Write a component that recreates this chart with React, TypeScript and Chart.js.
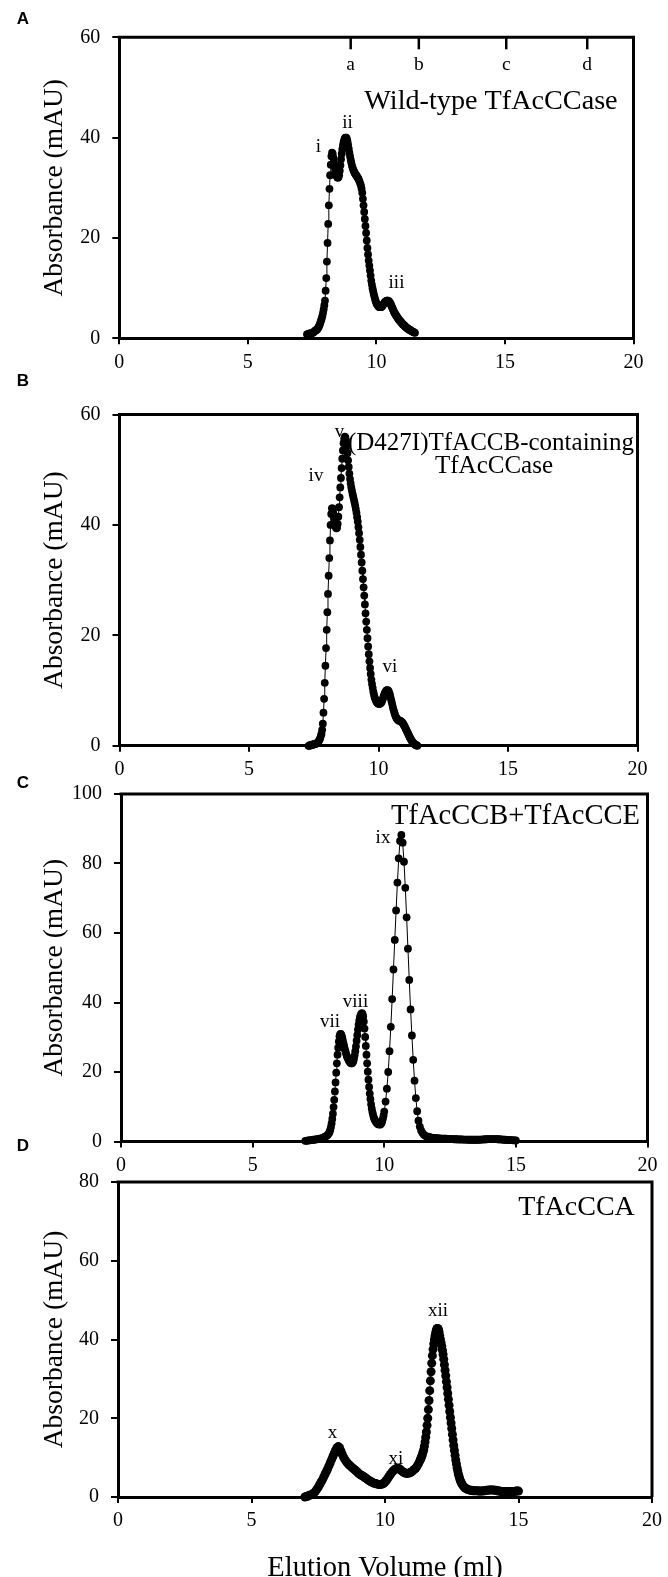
import React, { useEffect, useRef } from 'react';
import { Chart, registerables } from 'chart.js';

Chart.register(...registerables);

// ---------- data ----------
// elution volumes (ml) for panels A and B
const volumesAB = [
  7.300, 7.325, 7.350, 7.375, 7.400, 7.425, 7.450, 7.475, 7.500, 7.525, 7.550, 7.575, 7.600, 7.625, 7.650, 7.675, 7.700, 7.725, 7.750, 7.775,
  7.800, 7.825, 7.850, 7.875, 7.900, 7.925, 7.950, 7.975, 8.000, 8.025, 8.050, 8.075, 8.100, 8.125, 8.150, 8.175, 8.200, 8.225, 8.250, 8.275,
  8.300, 8.325, 8.350, 8.375, 8.400, 8.425, 8.450, 8.475, 8.500, 8.525, 8.550, 8.575, 8.600, 8.625, 8.650, 8.675, 8.700, 8.725, 8.750, 8.775,
  8.800, 8.825, 8.850, 8.875, 8.900, 8.925, 8.950, 8.975, 9.000, 9.025, 9.050, 9.075, 9.100, 9.125, 9.150, 9.175, 9.200, 9.225, 9.250, 9.275,
  9.300, 9.325, 9.350, 9.375, 9.400, 9.425, 9.450, 9.475, 9.500, 9.525, 9.550, 9.575, 9.600, 9.625, 9.650, 9.675, 9.700, 9.725, 9.750, 9.775,
  9.800, 9.825, 9.850, 9.875, 9.900, 9.925, 9.950, 9.975, 10.000, 10.025, 10.050, 10.075, 10.100, 10.125, 10.150, 10.175, 10.200, 10.225, 10.250, 10.275,
  10.300, 10.325, 10.350, 10.375, 10.400, 10.425, 10.450, 10.475, 10.500, 10.525, 10.550, 10.575, 10.600, 10.625, 10.650, 10.675, 10.700, 10.725, 10.750, 10.775,
  10.800, 10.825, 10.850, 10.875, 10.900, 10.925, 10.950, 10.975, 11.000, 11.025, 11.050, 11.075, 11.100, 11.125, 11.150, 11.175, 11.200, 11.225, 11.250, 11.275,
  11.300, 11.325, 11.350, 11.375, 11.400, 11.425, 11.450, 11.475, 11.500,
];

// A: wild-type TfAcCCase (mAU)
const absorbanceA = [
  0.8, 0.8, 0.9, 0.9, 1.0, 1.0, 1.0, 1.0, 1.1, 1.1, 1.2, 1.3, 1.5, 1.5, 1.6, 1.7, 1.8, 2.0, 2.2, 2.5,
  2.8, 3.2, 3.6, 4.0, 4.5, 5.1, 5.8, 6.6, 7.5, 9.5, 12.0, 15.3, 19.0, 22.8, 26.5, 29.8, 32.5, 34.6, 36.3, 37.0,
  36.8, 36.0, 35.0, 34.2, 33.5, 32.9, 32.4, 32.1, 32.0, 32.1, 32.5, 33.4, 34.5, 35.7, 36.8, 37.7, 38.5, 39.1, 39.6, 39.9,
  40.0, 40.0, 39.8, 39.3, 38.6, 37.8, 37.0, 36.3, 35.6, 35.0, 34.4, 34.0, 33.6, 33.3, 33.0, 32.8, 32.6, 32.4, 32.2, 32.0,
  31.8, 31.5, 31.2, 30.8, 30.4, 29.8, 29.0, 27.8, 26.5, 25.2, 23.8, 22.4, 21.0, 19.5, 18.0, 16.7, 15.5, 14.5, 13.5, 12.5,
  11.5, 10.7, 10.0, 9.4, 8.8, 8.3, 7.8, 7.4, 7.0, 6.8, 6.6, 6.4, 6.3, 6.2, 6.2, 6.2, 6.3, 6.4, 6.6, 6.8,
  7.0, 7.2, 7.3, 7.4, 7.5, 7.5, 7.5, 7.4, 7.3, 7.1, 6.9, 6.6, 6.3, 6.0, 5.7, 5.4, 5.1, 4.9, 4.7, 4.5,
  4.3, 4.1, 3.9, 3.7, 3.6, 3.4, 3.3, 3.1, 3.0, 2.8, 2.7, 2.6, 2.5, 2.3, 2.2, 2.1, 2.0, 1.9, 1.8, 1.7,
  1.7, 1.6, 1.5, 1.4, 1.4, 1.3, 1.2, 1.2, 1.1,
];

// B: (D427I)TfACCB-containing TfAcCCase (mAU)
const absorbanceB = [
  0.0, 0.0, 0.1, 0.1, 0.1, 0.2, 0.2, 0.2, 0.3, 0.3, 0.3, 0.4, 0.4, 0.5, 0.6, 0.7, 0.9, 1.1, 1.4, 1.8,
  2.2, 2.9, 4.0, 6.0, 8.5, 11.4, 14.5, 17.7, 21.0, 24.2, 27.5, 30.8, 34.0, 37.2, 40.0, 42.0, 43.0, 43.0, 42.3, 41.4,
  40.6, 40.0, 39.6, 39.4, 39.5, 40.2, 41.5, 43.2, 45.0, 46.8, 48.5, 50.3, 52.0, 53.5, 54.8, 55.6, 56.0, 55.8, 55.2, 54.2,
  53.0, 51.7, 50.5, 49.3, 48.3, 47.5, 46.8, 46.2, 45.6, 45.1, 44.6, 44.1, 43.5, 42.9, 42.2, 41.4, 40.6, 39.6, 38.5, 37.3,
  36.0, 34.6, 33.2, 31.7, 30.2, 28.7, 27.2, 25.6, 24.0, 22.5, 21.0, 19.5, 18.0, 16.6, 15.3, 14.1, 13.0, 12.0, 11.2, 10.5,
  9.8, 9.3, 8.8, 8.5, 8.2, 8.0, 7.8, 7.7, 7.6, 7.6, 7.6, 7.7, 7.8, 8.0, 8.3, 8.6, 9.0, 9.3, 9.6, 9.8,
  10.0, 10.1, 10.1, 10.0, 9.8, 9.5, 9.1, 8.6, 8.1, 7.6, 7.1, 6.6, 6.2, 5.8, 5.5, 5.2, 5.0, 4.8, 4.7, 4.6,
  4.6, 4.5, 4.5, 4.4, 4.3, 4.2, 4.0, 3.8, 3.6, 3.4, 3.1, 2.9, 2.6, 2.4, 2.1, 1.9, 1.6, 1.4, 1.2, 1.0,
  0.8, 0.6, 0.5, 0.4, 0.3, 0.2, 0.1, 0.1, 0.0,
];

// C: TfAcCCB+TfAcCCE
const volumesC = [
  7.00, 7.05, 7.10, 7.15, 7.20, 7.25, 7.30, 7.35, 7.40, 7.45, 7.50, 7.55, 7.60, 7.65, 7.70, 7.75, 7.80, 7.85, 7.90,
  7.925, 7.950, 7.975, 8.000, 8.025, 8.050, 8.075, 8.100, 8.125, 8.150, 8.175, 8.200, 8.225, 8.250, 8.275, 8.300, 8.325, 8.350, 8.375, 8.400,
  8.425, 8.450, 8.475, 8.500, 8.525, 8.550, 8.575, 8.600, 8.625, 8.650, 8.675, 8.700, 8.725, 8.750, 8.775, 8.800, 8.825, 8.850, 8.875, 8.900,
  8.925, 8.950, 8.975, 9.000, 9.025, 9.050, 9.075, 9.100, 9.125, 9.150, 9.175, 9.200, 9.225, 9.250, 9.275, 9.300, 9.325, 9.350, 9.375, 9.400,
  9.425, 9.450, 9.475, 9.500, 9.525, 9.550, 9.575, 9.600, 9.625, 9.650, 9.675, 9.700, 9.725, 9.750, 9.775, 9.800, 9.825, 9.850, 9.875, 9.900,
  9.925, 9.950, 9.975,
  10.00, 10.05, 10.10, 10.15, 10.20, 10.25, 10.30, 10.35, 10.40, 10.45,
  10.50, 10.55, 10.60, 10.65, 10.70, 10.75, 10.80, 10.85, 10.90, 10.95,
  11.00, 11.05, 11.10, 11.15, 11.20, 11.25, 11.30, 11.35, 11.40, 11.45,
  11.50, 11.55, 11.60, 11.65, 11.70, 11.75, 11.80, 11.85, 11.90, 11.95,
  12.00, 12.05, 12.10, 12.15, 12.20, 12.25, 12.30, 12.35, 12.40, 12.45,
  12.50, 12.55, 12.60, 12.65, 12.70, 12.75, 12.80, 12.85, 12.90, 12.95,
  13.00, 13.05, 13.10, 13.15, 13.20, 13.25, 13.30, 13.35, 13.40, 13.45,
  13.50, 13.55, 13.60, 13.65, 13.70, 13.75, 13.80, 13.85, 13.90, 13.95,
  14.00, 14.05, 14.10, 14.15, 14.20, 14.25, 14.30, 14.35, 14.40, 14.45,
  14.50, 14.55, 14.60, 14.65, 14.70, 14.75, 14.80, 14.85, 14.90, 14.95,
  15.00,
];

const absorbanceC = [
  0.2, 0.2, 0.3, 0.3, 0.4, 0.4, 0.5, 0.5, 0.6, 0.7, 0.7, 0.8, 0.9, 1.0, 1.2, 1.4, 1.6, 1.9, 2.4,
  2.8, 3.4, 4.2, 5.2, 6.5, 8.0, 9.9, 12.0, 14.4, 17.0, 19.8, 22.5, 25.0, 27.0, 28.8, 30.3, 30.9, 31.0, 30.6, 30.0,
  29.2, 28.3, 27.5, 26.7, 26.0, 25.3, 24.7, 24.2, 23.8, 23.4, 23.1, 22.8, 22.6, 22.5, 22.5, 22.7, 23.1, 23.8, 24.8, 26.0,
  27.4, 29.0, 30.6, 32.2, 33.6, 34.8, 35.7, 36.3, 36.7, 36.9, 36.7, 36.0, 34.5, 32.5, 30.1, 27.5, 25.0, 22.5, 20.1, 17.8,
  15.7, 13.8, 12.2, 10.7, 9.5, 8.5, 7.7, 7.0, 6.5, 6.1, 5.8, 5.5, 5.3, 5.1, 5.0, 4.9, 4.9, 4.9, 5.1, 5.4,
  5.9, 6.6, 7.5,
  8.6, 11.5, 15.2, 20.0, 26.0, 33.0, 41.0, 49.5, 58.0, 66.5,
  74.5, 81.5, 86.5, 88.2, 86.0, 80.5, 73.0, 64.5, 55.5, 46.5,
  38.0, 30.5, 23.5, 17.5, 12.5, 8.7, 6.0, 4.3, 3.2, 2.5,
  2.0, 1.7, 1.5, 1.4, 1.3, 1.2, 1.1, 1.05, 1.0, 1.0,
  0.95, 0.9, 0.9, 0.85, 0.85, 0.8, 0.8, 0.8, 0.75, 0.75,
  0.7, 0.7, 0.7, 0.65, 0.65, 0.65, 0.6, 0.6, 0.6, 0.6,
  0.55, 0.55, 0.55, 0.55, 0.5, 0.5, 0.5, 0.5, 0.5, 0.5,
  0.5, 0.5, 0.5, 0.55, 0.55, 0.6, 0.6, 0.65, 0.65, 0.7,
  0.7, 0.7, 0.7, 0.7, 0.7, 0.7, 0.65, 0.65, 0.6, 0.6,
  0.55, 0.5, 0.5, 0.45, 0.45, 0.4, 0.4, 0.4, 0.35, 0.35,
  0.3,
];

// D: TfAcCCA
const volumesD = [
  7.00, 7.05, 7.10, 7.15, 7.20, 7.25, 7.30, 7.35, 7.40, 7.45,
  7.50, 7.55, 7.60, 7.65, 7.70, 7.75, 7.80, 7.85, 7.90, 7.95,
  8.00, 8.05, 8.10, 8.15, 8.20, 8.25, 8.30, 8.35, 8.40, 8.45,
  8.50, 8.55, 8.60, 8.65, 8.70, 8.75, 8.80, 8.85, 8.90, 8.95,
  9.00, 9.05, 9.10, 9.15, 9.20, 9.25, 9.30, 9.35, 9.40, 9.45,
  9.50, 9.55, 9.60, 9.65, 9.70, 9.75, 9.80, 9.85, 9.90, 9.95,
  10.00, 10.05, 10.10, 10.15, 10.20, 10.25, 10.30, 10.35, 10.40, 10.45,
  10.50, 10.55, 10.60, 10.65, 10.70, 10.75, 10.80, 10.85, 10.90, 10.95,
  11.00, 11.05, 11.10, 11.15, 11.20, 11.25, 11.30,
  11.325, 11.350, 11.375, 11.400, 11.425, 11.450, 11.475, 11.500, 11.525, 11.550,
  11.575, 11.600, 11.625, 11.650, 11.675, 11.700, 11.725, 11.750, 11.775, 11.800,
  11.825, 11.850, 11.875, 11.900, 11.925, 11.950, 11.975, 12.000, 12.025, 12.050,
  12.075, 12.100, 12.125, 12.150, 12.175, 12.200, 12.225, 12.250, 12.275, 12.300,
  12.325, 12.350, 12.375, 12.400, 12.425, 12.450, 12.475, 12.500, 12.525, 12.550,
  12.575, 12.600, 12.625, 12.650, 12.675, 12.700, 12.725, 12.750, 12.775, 12.800,
  12.825, 12.850, 12.875,
  12.90, 12.95,
  13.00, 13.05, 13.10, 13.15, 13.20, 13.25, 13.30, 13.35, 13.40, 13.45,
  13.50, 13.55, 13.60, 13.65, 13.70, 13.75, 13.80, 13.85, 13.90, 13.95,
  14.00, 14.05, 14.10, 14.15, 14.20, 14.25, 14.30, 14.35, 14.40, 14.45,
  14.50, 14.55, 14.60, 14.65, 14.70, 14.75, 14.80, 14.85, 14.90, 14.95,
  15.00,
];

const absorbanceD = [
  0.0, 0.1, 0.2, 0.4, 0.5, 0.6, 0.8, 1.1, 1.5, 2.0,
  2.5, 3.1, 3.7, 4.3, 5.0, 5.7, 6.4, 7.1, 7.9, 8.7,
  9.5, 10.3, 11.1, 11.9, 12.5, 12.8, 12.5, 11.7, 10.8, 10.1,
  9.5, 9.0, 8.6, 8.2, 7.9, 7.6, 7.3, 7.0, 6.7, 6.4,
  6.1, 5.8, 5.6, 5.4, 5.2, 4.9, 4.7, 4.4, 4.2, 4.0,
  3.8, 3.6, 3.5, 3.4, 3.3, 3.2, 3.2, 3.2, 3.3, 3.5,
  3.8, 4.2, 4.7, 5.2, 5.7, 6.2, 6.6, 6.9, 7.1, 7.3,
  7.3, 7.1, 6.8, 6.5, 6.3, 6.1, 6.0, 6.0, 6.1, 6.2,
  6.4, 6.7, 7.0, 7.3, 7.8, 8.4, 9.1,
  9.5, 9.9, 10.3, 10.8, 11.4, 12.0, 12.9, 14.0, 15.2, 16.5,
  18.2, 20.0, 22.2, 24.5, 27.0, 29.5, 31.8, 34.0, 35.9, 37.5,
  38.9, 40.0, 41.0, 41.8, 42.4, 42.8, 42.8, 42.6, 41.9, 41.0,
  40.1, 39.2, 38.3, 37.3, 36.2, 35.0, 33.6, 32.2, 30.8, 29.3,
  27.8, 26.3, 24.8, 23.3, 21.7, 20.2, 18.8, 17.4, 15.9, 14.5,
  13.1, 11.8, 10.6, 9.4, 8.4, 7.4, 6.6, 5.8, 5.2, 4.6,
  4.1, 3.7, 3.4,
  3.1, 2.6,
  2.3, 2.1, 1.9, 1.8, 1.7, 1.7, 1.6, 1.6, 1.6, 1.6,
  1.5, 1.5, 1.5, 1.5, 1.6, 1.6, 1.7, 1.7, 1.8, 1.8,
  1.8, 1.8, 1.7, 1.7, 1.6, 1.5, 1.5, 1.4, 1.4, 1.4,
  1.4, 1.4, 1.4, 1.4, 1.4, 1.4, 1.4, 1.4, 1.5, 1.5,
  1.5,
];

const xTickValues = [0, 5, 10, 15, 20];
const yTicksAB = [0, 20, 40, 60];
const yTicksC = [0, 20, 40, 60, 80, 100];
const yTicksD = [0, 20, 40, 60, 80];

// calibration standards on top axis of panel A
const markerVolumes = [9.0, 11.65, 15.05, 18.2];
const markerLabels = ['a', 'b', 'c', 'd'];

// ---------- layout / style ----------
const SERIF = '"Liberation Serif", "Times New Roman", serif';
const SANS = '"Liberation Sans", Arial, sans-serif';
const PAGE_W = 668;

type TextItem = { text: string; x: number; y: number; size: number };

type Panel = {
  letter: string;
  letterX: number;
  letterY: number;
  canvasTop: number;
  canvasHeight: number;
  left: number;
  right: number;
  top: number;
  bottom: number;
  yTicks: number[];
  volumes: number[];
  values: number[];
  radius: number;
  texts: TextItem[];
  markers: boolean;
  xTitle: boolean;
};

const panels: Panel[] = [
  {
    letter: 'A', letterX: 23, letterY: 24,
    canvasTop: 0, canvasHeight: 385,
    left: 119.3, right: 633.5, top: 37.3, bottom: 338.3,
    yTicks: yTicksAB, volumes: volumesAB, values: absorbanceA, radius: 3.9,
    texts: [
      { text: 'Wild-type TfAcCCase', x: 491, y: 109, size: 28.2 },
      { text: 'i', x: 318.5, y: 151.7, size: 19 },
      { text: 'ii', x: 347.5, y: 127.7, size: 19 },
      { text: 'iii', x: 396.5, y: 288, size: 19 },
    ],
    markers: true, xTitle: false,
  },
  {
    letter: 'B', letterX: 23, letterY: 386,
    canvasTop: 372, canvasHeight: 410,
    left: 119.5, right: 637.5, top: 414.5, bottom: 745.8,
    yTicks: yTicksAB, volumes: volumesAB, values: absorbanceB, radius: 3.9,
    texts: [
      { text: '(D427I)TfACCB-containing', x: 491, y: 450, size: 25 },
      { text: 'TfAcCCase', x: 494, y: 473, size: 25 },
      { text: 'iv', x: 316, y: 481, size: 19 },
      { text: 'v', x: 339.5, y: 437, size: 19 },
      { text: 'vi', x: 390, y: 671.7, size: 19 },
    ],
    markers: false, xTitle: false,
  },
  {
    letter: 'C', letterX: 23, letterY: 788.3,
    canvasTop: 770, canvasHeight: 412,
    left: 121, right: 647.5, top: 790, bottom: 1141.5,
    yTicks: yTicksC, volumes: volumesC, values: absorbanceC, radius: 3.9,
    texts: [
      { text: 'TfAcCCB+TfAcCCE', x: 515.5, y: 824, size: 28.5 },
      { text: 'vii', x: 330, y: 1027, size: 19 },
      { text: 'viii', x: 355.5, y: 1007, size: 19 },
      { text: 'ix', x: 383, y: 843, size: 19 },
    ],
    markers: false, xTitle: false,
  },
  {
    letter: 'D', letterX: 23, letterY: 1151,
    canvasTop: 1125, canvasHeight: 452,
    left: 118, right: 654, top: 1182, bottom: 1497,
    yTicks: yTicksD, volumes: volumesD, values: absorbanceD, radius: 4.5,
    texts: [
      { text: 'TfAcCCA', x: 576.5, y: 1215, size: 28 },
      { text: 'x', x: 332.5, y: 1438, size: 19 },
      { text: 'xi', x: 396, y: 1464, size: 19 },
      { text: 'xii', x: 438, y: 1316, size: 19 },
    ],
    markers: false, xTitle: true,
  },
];

function PanelChart({ p }: { p: Panel }) {
  const ref = useRef<HTMLCanvasElement | null>(null);

  useEffect(() => {
    const canvas = ref.current;
    if (!canvas) return;
    const T = p.canvasTop;

    const overlay = {
      id: 'overlay' + p.letter,
      afterDraw(chart: any) {
        const ctx: CanvasRenderingContext2D = chart.ctx;
        const ca = chart.chartArea;
        ctx.save();
        // top and right frame
        ctx.strokeStyle = '#000';
        ctx.lineWidth = 3;
        ctx.lineJoin = 'miter';
        ctx.beginPath();
        ctx.moveTo(ca.left - 1.5, ca.top);
        ctx.lineTo(ca.right, ca.top);
        ctx.lineTo(ca.right, ca.bottom);
        ctx.stroke();

        ctx.fillStyle = '#000';
        ctx.textBaseline = 'alphabetic';
        ctx.textAlign = 'center';

        // marker ticks on top axis
        if (p.markers) {
          const xs = chart.scales.x;
          ctx.lineWidth = 2.5;
          markerVolumes.forEach((v, i) => {
            const px = xs.getPixelForValue(v);
            ctx.beginPath();
            ctx.moveTo(px, ca.top);
            ctx.lineTo(px, ca.top + 12);
            ctx.stroke();
            ctx.font = `19.5px ${SERIF}`;
            ctx.fillText(markerLabels[i], px, 70 - T);
          });
        }

        // annotations
        p.texts.forEach((t) => {
          ctx.font = `${t.size}px ${SERIF}`;
          ctx.fillText(t.text, t.x, t.y - T);
        });

        // panel letter
        ctx.font = `bold 17px ${SANS}`;
        ctx.fillText(p.letter, p.letterX, p.letterY - T);

        if (p.xTitle) {
          ctx.font = `28.5px ${SERIF}`;
          ctx.fillText('Elution Volume (ml)', (ca.left + ca.right) / 2, 1576 - T);
        }
        ctx.restore();
      },
    };

    const tickFont = { family: SERIF, size: 20 };
    const chart = new Chart(canvas, {
      type: 'line',
      data: {
        datasets: [
          {
            data: p.volumes.map((v, i) => ({ x: v, y: p.values[i] })),
            borderColor: '#000',
            borderWidth: 1,
            pointRadius: p.radius,
            pointBackgroundColor: '#000',
            pointBorderColor: '#000',
            pointBorderWidth: 0,
            tension: 0,
            fill: false,
            clip: false as any,
          },
        ],
      },
      options: {
        animation: false,
        responsive: false,
        events: [],
        layout: {
          padding: { left: 0, right: PAGE_W - p.right, top: p.top - T, bottom: 0 },
        },
        plugins: { legend: { display: false }, tooltip: { enabled: false } },
        scales: {
          x: {
            type: 'linear',
            min: 0,
            max: 20,
            afterFit: (s: any) => {
              s.height = T + p.canvasHeight - p.bottom;
            },
            afterBuildTicks: (s: any) => {
              s.ticks = xTickValues.map((v) => ({ value: v }));
            },
            ticks: { color: '#000', font: tickFont, padding: 6, maxRotation: 0, autoSkip: false },
            grid: { drawOnChartArea: false, drawTicks: true, tickLength: 6, lineWidth: 2, color: '#000' },
            border: { display: true, width: 3, color: '#000' },
          },
          y: {
            type: 'linear',
            min: 0,
            max: p.yTicks[p.yTicks.length - 1],
            afterFit: (s: any) => {
              s.width = p.left;
            },
            afterBuildTicks: (s: any) => {
              s.ticks = p.yTicks.map((v) => ({ value: v }));
            },
            ticks: { color: '#000', font: tickFont, padding: 12, autoSkip: false },
            grid: { drawOnChartArea: false, drawTicks: true, tickLength: 7, lineWidth: 2, color: '#000' },
            border: { display: true, width: 3, color: '#000' },
            title: {
              display: true,
              text: 'Absorbance (mAU)',
              color: '#000',
              font: { family: SERIF, size: 27.5 },
              padding: { top: 38.5, bottom: 0 },
            },
          },
        },
      } as any,
      plugins: [overlay],
    });
    return () => chart.destroy();
  }, [p]);

  return (
    <canvas
      ref={ref}
      width={PAGE_W}
      height={p.canvasHeight}
      style={{ position: 'absolute', left: 0, top: p.canvasTop }}
    />
  );
}

export default function App() {
  return (
    <div
      style={{
        position: 'absolute',
        left: 0,
        top: 0,
        width: PAGE_W,
        height: 1577,
        background: '#fff',
        overflow: 'hidden',
      }}
    >
      {panels.map((p) => (
        <PanelChart key={p.letter} p={p} />
      ))}
    </div>
  );
}
